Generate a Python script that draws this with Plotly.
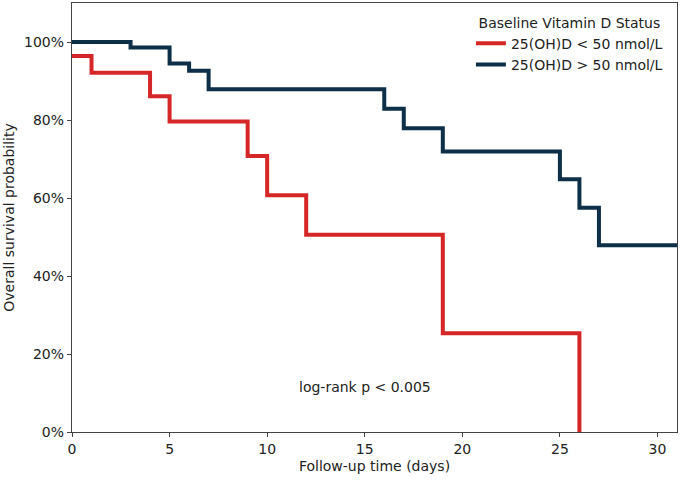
import plotly.graph_objects as go

# Kaplan-Meier step data
low_time = [0, 1, 4, 5, 9, 10, 12, 19, 26]
low_surv = [0.964, 0.921, 0.861, 0.796, 0.708, 0.607, 0.506, 0.253, 0.0]

high_time = [0, 3, 5, 6, 7, 16, 17, 19, 25, 26, 27, 31]
high_surv = [1.0, 0.986, 0.945, 0.926, 0.879, 0.829, 0.779, 0.719, 0.648, 0.575, 0.479, 0.479]

x_ticks = [0, 5, 10, 15, 20, 25, 30]
y_ticks = [0, 0.2, 0.4, 0.6, 0.8, 1.0]
y_tick_labels = ["0%", "20%", "40%", "60%", "80%", "100%"]

RED = "#d62728"
NAVY = "#0e2f48"
FONT = "DejaVu Sans"
FS = 14

fig = go.Figure()
fig.add_trace(go.Scatter(x=low_time, y=low_surv, mode="lines", line_shape="hv",
                         line=dict(color=RED, width=4), name="25(OH)D &lt; 50 nmol/L"))
fig.add_trace(go.Scatter(x=high_time, y=high_surv, mode="lines", line_shape="hv",
                         line=dict(color=NAVY, width=4), name="25(OH)D &gt; 50 nmol/L"))

fig.add_annotation(x=15, y=0.115, text="log-rank p &lt; 0.005", showarrow=False,
                   font=dict(family=FONT, size=FS, color="#222"))

axis_common = dict(showline=True, linecolor="#444", linewidth=1.2, mirror=True,
                   ticks="outside", ticklen=4, tickcolor="#444", showgrid=False, zeroline=False,
                   automargin=False,
                   tickfont=dict(family=FONT, size=FS, color="#222"))

fig.update_layout(
    width=688, height=481,
    margin=dict(l=72, r=11, t=3, b=49),
    paper_bgcolor="white", plot_bgcolor="white",
    font=dict(family=FONT, size=FS, color="#222"),
    xaxis=dict(range=[0, 31], tickvals=x_ticks,
               title=dict(text="Follow-up time (days)", standoff=5,
                          font=dict(family=FONT, size=FS, color="#222")), **axis_common),
    yaxis=dict(range=[0, 1.1], tickvals=y_ticks, ticktext=y_tick_labels,
               title=dict(text="Overall survival probability", standoff=6,
                          font=dict(family=FONT, size=FS, color="#222")), **axis_common),
    legend=dict(x=0.985, y=0.985, xanchor="right", yanchor="top",
                bgcolor="rgba(255,255,255,0)", font=dict(family=FONT, size=FS, color="#222"),
                title=dict(text="Baseline Vitamin D Status", side="top center",
                           font=dict(family=FONT, size=FS, color="#222")),
                tracegroupgap=0),
    showlegend=True,
)

fig.write_html("out.html", config={"displayModeBar": False, "staticPlot": True})

# remove the browser's default page margin so the figure sits at (0, 0)
with open("out.html", "r", encoding="utf-8") as f:
    html = f.read()
html = html.replace("<head>", "<head><style>html,body{margin:0;padding:0;}</style>", 1)
with open("out.html", "w", encoding="utf-8") as f:
    f.write(html)
